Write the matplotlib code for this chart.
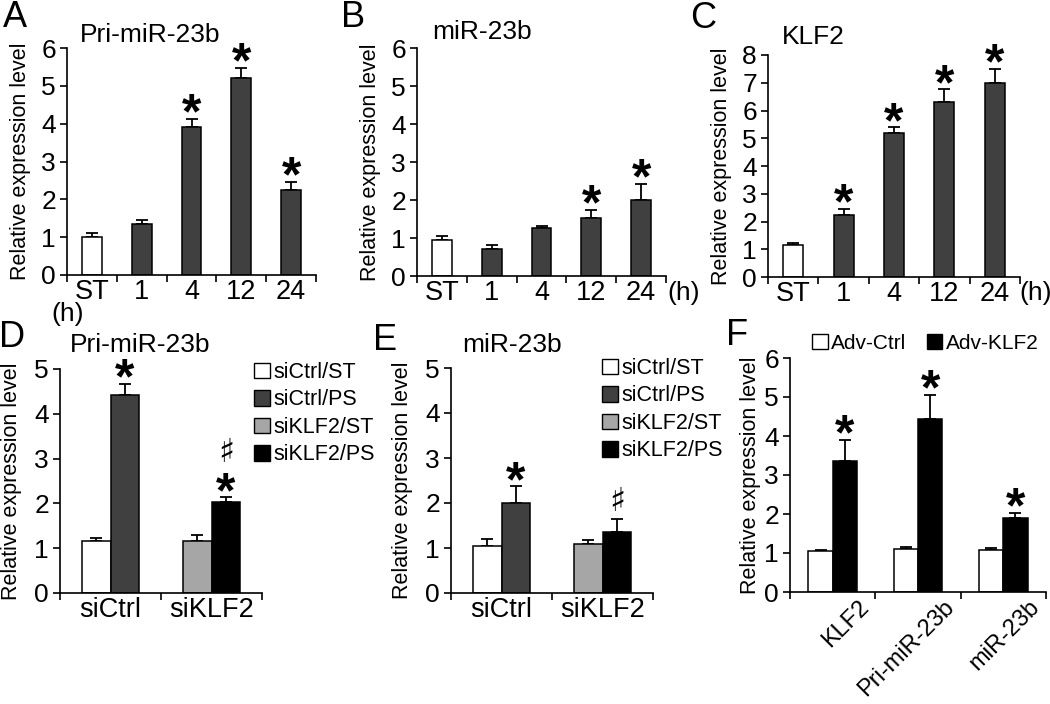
import numpy as np
import matplotlib.pyplot as plt
import matplotlib.transforms as mtrans
from matplotlib.patches import Patch

plt.rcParams['font.family'] = ['Liberation Sans', 'DejaVu Sans']

W, H = 1050, 704

# A-C: shear stress time course
time_labels = ["ST", "1", "4", "12", "24"]
a_vals = [1.01, 1.34, 3.91, 5.20, 2.25]
a_err = [0.09, 0.12, 0.22, 0.28, 0.21]
a_sig = [False, False, True, True, True]

b_vals = [0.96, 0.70, 1.26, 1.53, 2.00]
b_err = [0.09, 0.11, 0.06, 0.21, 0.42]
b_sig = [False, False, False, True, True]

c_vals = [1.17, 2.23, 5.19, 6.30, 7.00]
c_err = [0.07, 0.22, 0.21, 0.46, 0.50]
c_sig = [False, True, True, True, True]

# D-E: siRNA knockdown
groups = ["siCtrl", "siKLF2"]
de_series = ["siCtrl/ST", "siCtrl/PS", "siKLF2/ST", "siKLF2/PS"]
d_st = [1.15, 1.15]
d_st_err = [0.08, 0.14]
d_ps = [4.43, 2.03]
d_ps_err = [0.24, 0.11]
e_st = [1.04, 1.10]
e_st_err = [0.16, 0.07]
e_ps = [1.99, 1.35]
e_ps_err = [0.38, 0.29]

# F: adenovirus overexpression
f_genes = ["KLF2", "Pri-miR-23b", "miR-23b"]
f_ctrl = [1.04, 1.11, 1.07]
f_ctrl_err = [0.04, 0.05, 0.05]
f_klf2 = [3.37, 4.43, 1.90]
f_klf2_err = [0.53, 0.62, 0.13]

DARK = "#404040"
LIGHT = "#a6a6a6"

fig = plt.figure(figsize=(W / 100, H / 100), dpi=100)


def add_ax(l, t, r, b):
    return fig.add_axes([l / W, 1 - b / H, (r - l) / W, (b - t) / H])


def style(ax, ymax, ncat, labels, lab_x, xsize=19.5):
    for s in ["top", "right"]:
        ax.spines[s].set_visible(False)
    for s in ["left", "bottom"]:
        ax.spines[s].set_linewidth(1.2)
    ax.set_ylim(0, ymax)
    ax.set_yticks(range(0, ymax + 1))
    ax.set_xlim(-0.5, ncat - 0.5)
    ax.set_xticks(np.arange(ncat + 1) - 0.5)
    ax.set_xticklabels([""] * (ncat + 1))
    ax.set_xticks(np.arange(ncat), minor=True)
    ax.set_xticklabels(labels, minor=True)
    ax.tick_params(axis="y", direction="out", length=5, width=1.2, labelsize=19, pad=3)
    ax.tick_params(axis="x", which="major", direction="out", length=5, width=1.2)
    ax.tick_params(axis="x", which="minor", length=0, labelsize=xsize, pad=3)
    ax.set_ylabel("Relative expression level", fontsize=15.5, va="center")
    ax.yaxis.set_label_coords(lab_x, 0.5)


def bars(ax, x, vals, errs, color, width):
    ax.bar(x, vals, width=width, color=color, edgecolor="black", linewidth=1.1, zorder=2)
    ax.errorbar(x, vals, yerr=[np.zeros(len(vals)), errs], fmt="none",
                ecolor="black", elinewidth=1.3, capsize=4.5, capthick=1.3, zorder=1)


def star(ax, x, y):
    ax.annotate("*", (x, y), xytext=(0, -7), textcoords="offset points",
                ha="center", va="baseline", fontsize=36, fontweight="bold")


def sharp(ax, x, y):
    ax.annotate("\u266f", (x, y), xytext=(0, 1), textcoords="offset points",
                ha="center", va="bottom", fontsize=24, family=["DejaVu Sans"])


# ---- A, B, C ----
top_panels = [
    ((67, 48, 316, 275), a_vals, a_err, a_sig, 6, "Pri-miR-23b", (80, 42), -0.185),
    ((417, 48, 666, 276), b_vals, b_err, b_sig, 6, "miR-23b", (432, 39), -0.185),
    ((768, 55, 1020, 277), c_vals, c_err, c_sig, 8, "KLF2", (782, 44), -0.185),
]
for box, vals, errs, sig, ymax, title, tpos, labx in top_panels:
    ax = add_ax(*box)
    x = np.arange(len(vals))
    colors = ["white"] + [DARK] * (len(vals) - 1)
    bars(ax, x, vals, errs, colors, 0.4)
    for i in range(len(vals)):
        if sig[i]:
            star(ax, x[i], vals[i] + errs[i])
    style(ax, ymax, len(vals), time_labels, labx)
    fig.text(tpos[0] / W, 1 - tpos[1] / H, title, fontsize=19, va="baseline")

fig.text(68 / W, 1 - 321 / H, "(h)", fontsize=19, ha="center", va="baseline")
fig.text(667 / W, 1 - 300 / H, "(h)", fontsize=19, va="baseline")
fig.text(1019 / W, 1 - 300 / H, "(h)", fontsize=19, va="baseline")

# ---- D, E ----
w = 0.285
gx = np.arange(len(groups))
de_panels = [
    ((60, 369, 262, 593), d_st, d_st_err, d_ps, d_ps_err, "Pri-miR-23b", (70, 352),
     [True, False], [False, True], [False, True], (254, 362)),
    ((451, 368, 653, 593), e_st, e_st_err, e_ps, e_ps_err, "miR-23b", (462, 352),
     [True, False], [False, True], [False, False], (602, 358)),
]
for box, st, st_e, ps, ps_e, title, tpos, sig_ps, sharp_ps, star_ps2, lpos in de_panels:
    ax = add_ax(*box)
    bars(ax, gx[:1] - w / 2, st[:1], st_e[:1], "white", w)
    bars(ax, gx[:1] + w / 2, ps[:1], ps_e[:1], DARK, w)
    bars(ax, gx[1:] - w / 2, st[1:], st_e[1:], LIGHT, w)
    bars(ax, gx[1:] + w / 2, ps[1:], ps_e[1:], "black", w)
    for i in range(len(groups)):
        top = ps[i] + ps_e[i]
        if sig_ps[i]:
            star(ax, gx[i] + w / 2, top)
        if star_ps2[i]:
            star(ax, gx[i] + w / 2, top)
            sharp(ax, gx[i] + w / 2, top + 0.6)
        elif sharp_ps[i]:
            sharp(ax, gx[i] + w / 2, top)
    style(ax, 5, len(groups), groups, -0.24)
    fig.text(tpos[0] / W, 1 - tpos[1] / H, title, fontsize=19, va="baseline")
    handles = [Patch(facecolor=c, edgecolor="black", linewidth=1)
               for c in ["white", DARK, LIGHT, "black"]]
    fig.legend(handles, de_series, loc="upper left",
               bbox_to_anchor=(lpos[0] / W, 1 - lpos[1] / H), frameon=False,
               fontsize=15.5, handlelength=0.75, handleheight=0.75, handletextpad=0.15,
               labelspacing=0.3, borderpad=0, borderaxespad=0)

# ---- F ----
ax = add_ax(790, 358, 1046, 592)
fx = np.arange(len(f_genes))
bars(ax, fx - w / 2, f_ctrl, f_ctrl_err, "white", w)
bars(ax, fx + w / 2, f_klf2, f_klf2_err, "black", w)
for i in range(len(f_genes)):
    star(ax, fx[i] + w / 2, f_klf2[i] + f_klf2_err[i])
style(ax, 6, len(f_genes), f_genes, -0.155, xsize=17)
off = mtrans.ScaledTranslation(25 / 100, 0, fig.dpi_scale_trans)
for lab in ax.get_xticklabels(minor=True):
    lab.set_rotation(45)
    lab.set_ha("right")
    lab.set_va("top")
    lab.set_rotation_mode("anchor")
    lab.set_transform(lab.get_transform() + off)
handles = [Patch(facecolor=c, edgecolor="black", linewidth=1) for c in ["white", "black"]]
fig.legend(handles, ["Adv-Ctrl", "Adv-KLF2"], ncol=2, loc="center left",
           bbox_to_anchor=(812 / W, 1 - 343 / H), frameon=False, fontsize=15,
           handlelength=0.75, handleheight=0.75, handletextpad=0.15, columnspacing=1.0,
           borderpad=0, borderaxespad=0)

# panel letters
for letter, (px, py) in zip("ABCDEF", [(3, 27), (341, 27), (690, 28), (-1, 347),
                                       (373, 350), (726, 345)]):
    fig.text(px / W, 1 - py / H, letter, fontsize=26, va="baseline")

fig.savefig("out.png", dpi=100)
